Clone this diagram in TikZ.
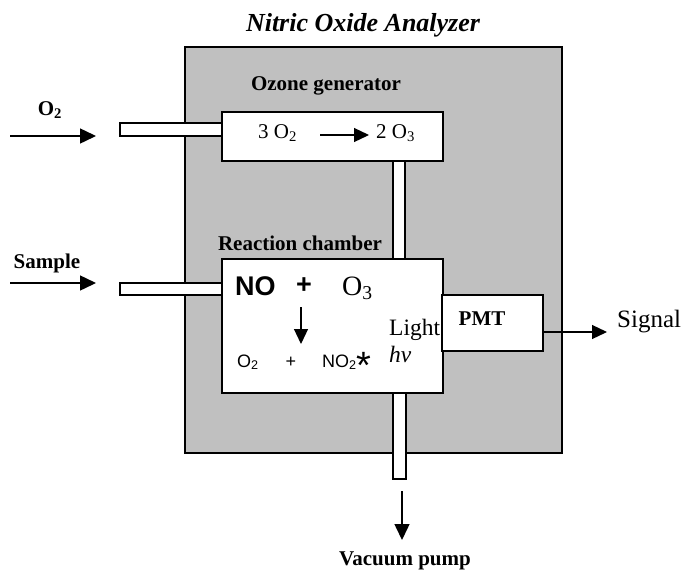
\documentclass[tikz,border=0pt]{standalone}
\usepackage{fontspec}
\setmainfont{Liberation Serif}
\newfontfamily\arialfont{Liberation Sans}
\usetikzlibrary{arrows.meta}
\definecolor{panel}{HTML}{C0C0C0}
\begin{document}
\begin{tikzpicture}[x=1pt,y=-1pt,
  frame/.style={draw=black, line width=1.6pt, inner sep=0pt, outer sep=0pt, anchor=north west},
  box/.style={frame, fill=white},
  tube/.style={draw=black, line width=1.3pt, fill=white, inner sep=0pt, outer sep=0pt, anchor=north west},
  flow/.style={line width=1.5pt, -{Triangle[length=16pt,width=15pt]}},
  thinflow/.style={line width=1.2pt, -{Triangle[length=15pt,width=14pt]}},
  lbl/.style={font=\fontsize{21}{24}\selectfont\bfseries, inner sep=0pt},
  txt/.style={inner sep=0pt}]
\useasboundingbox (0,0) rectangle (686,571);
% analyzer housing
\node[frame, fill=panel, minimum width=377pt, minimum height=406pt] (analyzer) at (185,47) {};
% tubes
\node[tube, minimum width=102pt, minimum height=13pt] (tubeO) at (120,123) {};
\node[tube, minimum width=102pt, minimum height=12pt] (tubeS) at (120,283) {};
\node[tube, minimum width=12pt, minimum height=98pt] (tubeM) at (393,161) {};
\node[tube, minimum width=13pt, minimum height=86pt] (tubeB) at (393,393) {};
% boxes
\node[box, minimum width=221pt, minimum height=49pt] (ozone) at (222,112) {};
\node[box, minimum width=221pt, minimum height=134pt] (reactor) at (222,259) {};
\node[box, minimum width=101pt, minimum height=56pt] (pmt) at (442,295) {};
% labels
\node[txt, anchor=base, font=\fontsize{26}{30}\selectfont\bfseries\itshape] (title) at (363,31) {Nitric Oxide Analyzer};
\node[lbl, anchor=base] (ozlbl) at (326,90) {Ozone generator};
\node[lbl, anchor=base] (rclbl) at (300,250) {Reaction chamber};
\node[lbl, anchor=base] (o2lbl) at (50,115) {O\textsubscript{2}};
\node[lbl, anchor=base] (smlbl) at (47,268) {Sample};
\node[lbl, anchor=base] (pmtlbl) at (482,325) {PMT};
\node[txt, anchor=base west, font=\fontsize{25}{30}\selectfont] (sig) at (617,327) {Signal};
\node[lbl, anchor=base] (vac) at (405,565) {Vacuum pump};
% ozone reaction
\node[txt, anchor=base west, font=\fontsize{21}{24}\selectfont] (o2in) at (258,138) {3 O\textsubscript{2}};
\node[txt, anchor=base west, font=\fontsize{21}{24}\selectfont] (o3out) at (376,138) {2 O\textsubscript{3}};
\coordinate (oza) at (320,135);
\coordinate (ozb) at (369,135);
\draw[thinflow] (oza) -- (ozb);
% reaction chamber contents
\node[txt, anchor=base west, font=\fontsize{27}{30}\selectfont\arialfont\bfseries] (no) at (235,295) {NO};
\node[txt, anchor=base, font=\fontsize{27}{30}\selectfont\arialfont\bfseries] (plus1) at (304,293) {+};
\node[txt, anchor=base west, font=\fontsize{28}{32}\selectfont] (o3) at (342,295) {O\textsubscript{3}};
\coordinate (rxa) at (301,307);
\coordinate (rxb) at (301,344);
\draw[thinflow] (rxa) -- (rxb);
\node[txt, anchor=base west, font=\fontsize{18}{22}\selectfont\arialfont] (o2p) at (237,367) {O\textsubscript{2}};
\node[txt, anchor=base, font=\fontsize{18}{22}\selectfont\arialfont] (plus2) at (291,367) {+};
\node[txt, anchor=base west, font=\fontsize{18}{22}\selectfont\arialfont] (no2) at (322,367) {NO\textsubscript{2}\raisebox{-11pt}{\fontsize{38}{40}\selectfont *}};
\node[txt, anchor=base west, font=\fontsize{23.5}{26}\selectfont] (light) at (389,335) {Light};
\node[txt, anchor=base west, font=\fontsize{23.5}{26}\selectfont\itshape] (hv) at (389,362) {hv};
% flows
\coordinate (o2start) at (10,136);
\coordinate (o2end) at (96,136);
\draw[flow] (o2start) -- (o2end);
\coordinate (sstart) at (10,283);
\coordinate (send) at (96,283);
\draw[flow] (sstart) -- (send);
\coordinate (sigend) at (607,332);
\draw[thinflow] (pmt.east |- sigend) -- (sigend);
\coordinate (vstart) at (402,491);
\coordinate (vend) at (402,540);
\draw[flow] (vstart) -- (vend);
\end{tikzpicture}
\end{document}
